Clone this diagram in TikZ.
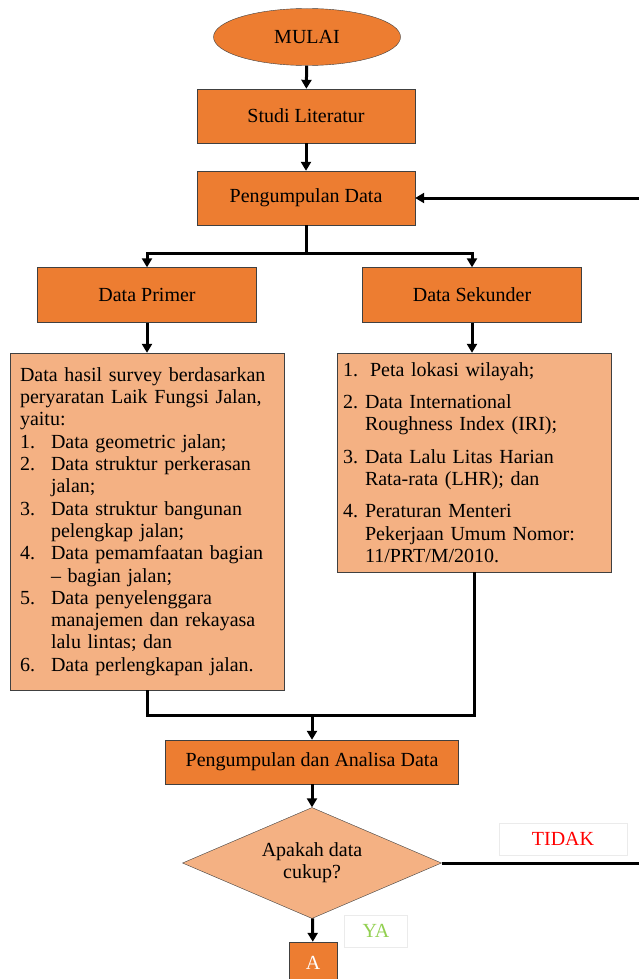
\documentclass[tikz,border=0pt]{standalone}
\usepackage{fontspec}
\setmainfont{Liberation Serif}
\usetikzlibrary{shapes.geometric,arrows.meta}
\definecolor{darkorange}{HTML}{ED7D31}
\definecolor{lightorange}{HTML}{F4B183}
\definecolor{bordercolor}{HTML}{404040}
\definecolor{yagreen}{HTML}{92D050}
\newcommand{\nb}[2][31pt]{\makebox[#1][l]{#2}}% item number
\newcommand{\cont}[1][31pt]{\hspace*{#1}}% continued line
\tikzstyle{startstop} = [
    ellipse,
    draw=bordercolor,
    fill=darkorange,
    minimum width=187pt,
    minimum height=57pt
    ]
\tikzstyle{process} = [
    rectangle,
    draw=bordercolor,
    fill=darkorange,
    minimum width=218pt,
    minimum height=54pt
    ]
\tikzstyle{listbox} = [
    rectangle,
    draw=bordercolor,
    fill=lightorange,
    align=left,
    inner ysep=0pt
    ]
\tikzstyle{decision} = [
    diamond,
    draw=bordercolor,
    fill=lightorange,
    align=center,
    inner sep=0pt,
    aspect=2.33,
    minimum width=259pt,
    minimum height=111pt
    ]
\tikzstyle{answer} = [
    rectangle,
    draw=black!8,
    fill=white,
    minimum height=32pt
    ]
\tikzstyle{flow} = [
    line width=3pt,
    -{Triangle[length=9pt,width=10pt]}
    ]
\tikzstyle{plain} = [
    line width=3pt
    ]

\begin{document}
\begin{tikzpicture}[x=1pt, y=-1pt, font=\fontsize{20}{22.3}\selectfont]
\useasboundingbox (0,0) rectangle (638,979);

\node[startstop] (mulai) at (307,37) {MULAI};
\node[process] (studi) at (306,116) {Studi Literatur};
\node[process] (kumpul) at (306,198) {Pengumpulan Data};
\node[process, minimum width=219pt, minimum height=55pt] (primer) at (147,295) {Data Primer};
\node[process, minimum width=219pt, minimum height=55pt] (sekunder) at (472,295) {Data Sekunder};

\node[listbox, text width=254pt, inner xsep=10pt, minimum height=337pt] (survey) at (147,521.5) {%
Data hasil survey berdasarkan\\
peryaratan Laik Fungsi Jalan,\\
yaitu:\\
\nb{1.}Data geometric jalan;\\
\nb{2.}Data struktur perkerasan\\
\cont jalan;\\
\nb{3.}Data struktur bangunan\\
\cont pelengkap jalan;\\
\nb{4.}Data pemamfaatan bagian\\
\cont -- bagian jalan;\\
\nb{5.}Data penyelenggara\\
\cont manajemen dan rekayasa\\
\cont lalu lintas; dan\\
\nb{6.}Data perlengkapan jalan.};

\node[listbox, text width=262pt, inner xsep=6pt, minimum height=219pt] (sekunderlist) at (474,462.5) {%
\nb[27pt]{1.}Peta lokasi wilayah;\\[10pt]
\nb[22pt]{2.}Data International\\
\cont[22pt]Roughness Index (IRI);\\[10pt]
\nb[22pt]{3.}Data Lalu Litas Harian\\
\cont[22pt]Rata-rata (LHR); dan\\[10pt]
\nb[22pt]{4.}Peraturan Menteri\\
\cont[22pt]Pekerjaan Umum Nomor:\\
\cont[22pt]11/PRT/M/2010.};

\node[process, minimum width=293pt, minimum height=44pt] (analisa) at (312,762) {Pengumpulan dan Analisa Data};
\node[decision] (cek) at (312,863) {Apakah data\\cukup?};
\node[process, minimum width=48pt, minimum height=42pt, text=white] (a) at (313,963) {A};

\node[answer, minimum width=128pt, text=red] (tidak) at (563,839) {TIDAK};
\node[answer, minimum width=63pt, text=yagreen] (ya) at (376,931) {YA};

% connectors
\coordinate (split) at (306,253);
\coordinate (join) at (312,715);
\coordinate (loop) at (660,863);
\draw[flow] (mulai) -- (studi);
\draw[flow] (studi) -- (kumpul);
\draw[flow] (kumpul.south) -- (split) -| (primer.north);
\draw[flow] (split) -| (sekunder.north);
\draw[flow] (primer) -- (survey);
\draw[flow] (sekunder.south) -- (sekunder.south |- sekunderlist.north);
\draw[plain] (survey.south) |- (join) -| (sekunderlist.south);
\draw[flow] (join) -- (analisa);
\draw[flow] (analisa) -- (cek);
\draw[flow] (cek) -- (a);
\draw[flow] (cek.east) -- (loop) |- (kumpul.east);
\end{tikzpicture}
\end{document}
